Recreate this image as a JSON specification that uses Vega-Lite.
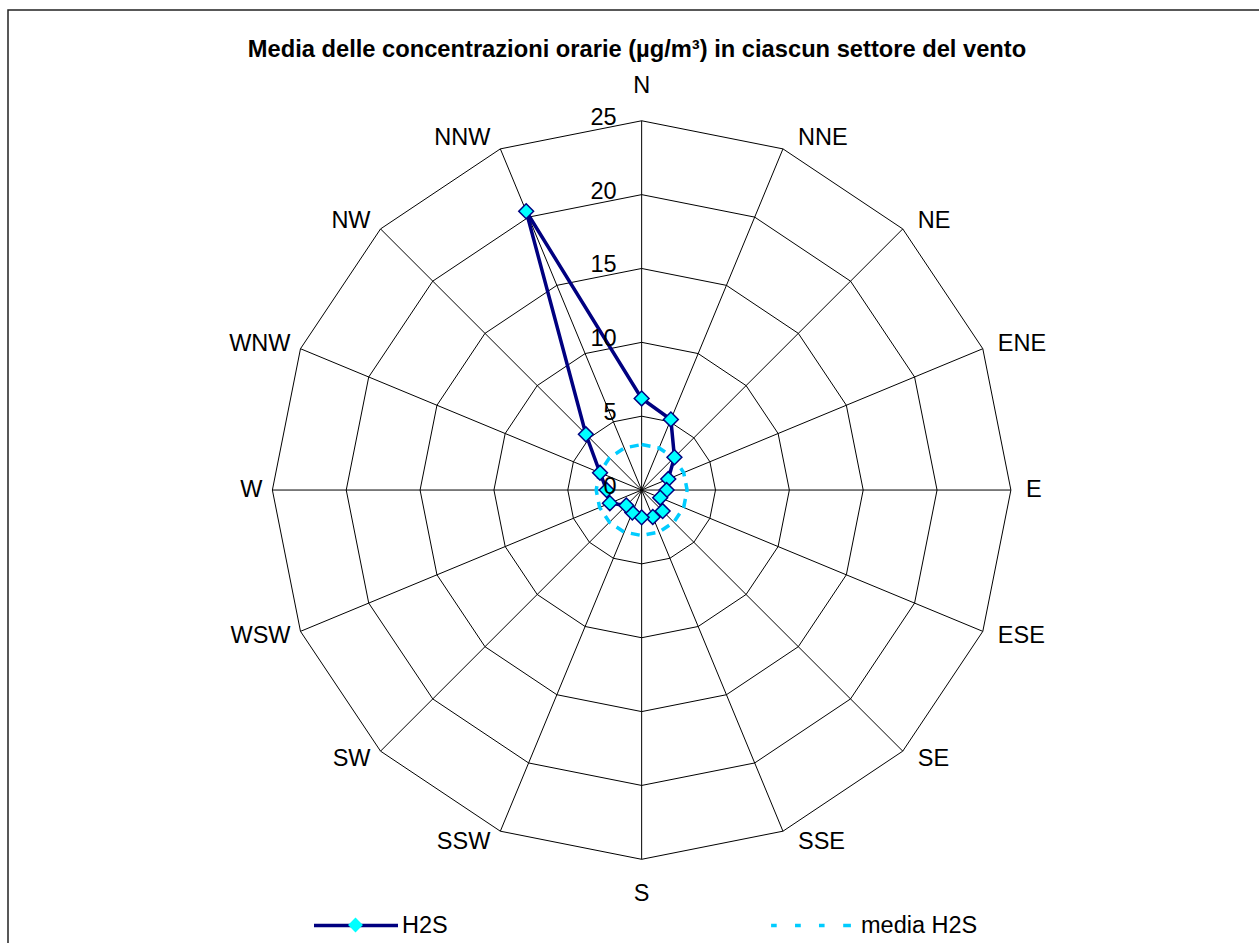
{
  "$schema": "https://vega.github.io/schema/vega-lite/v6.json",
  "width": 1254,
  "height": 936,
  "autosize": {"type": "none"},
  "padding": {"left": 8, "top": 10, "right": -3, "bottom": -3},
  "background": "white",
  "config": {"view": {"stroke": "#222", "strokeWidth": 1.5}, "font": "Liberation Sans"},
  "title": {"text": "Media delle concentrazioni orarie (µg/m³) in ciascun settore del vento", "font": "Liberation Sans", "fontSize": 23.7, "fontWeight": "bold", "color": "#000", "anchor": "middle", "frame": "group", "offset": -52, "dx": 2},
  "data": {"values": [
    {"dir": "N", "deg": 0, "H2S": 6.2, "media H2S": 3.08},
    {"dir": "NNE", "deg": 22.5, "H2S": 5.17, "media H2S": 3.08},
    {"dir": "NE", "deg": 45, "H2S": 3.14, "media H2S": 3.08},
    {"dir": "ENE", "deg": 67.5, "H2S": 1.95, "media H2S": 3.08},
    {"dir": "E", "deg": 90, "H2S": 1.69, "media H2S": 3.08},
    {"dir": "ESE", "deg": 112.5, "H2S": 1.36, "media H2S": 3.08},
    {"dir": "SE", "deg": 135, "H2S": 2.01, "media H2S": 3.08},
    {"dir": "SSE", "deg": 157.5, "H2S": 1.97, "media H2S": 3.08},
    {"dir": "S", "deg": 180, "H2S": 1.85, "media H2S": 3.08},
    {"dir": "SSW", "deg": 202.5, "H2S": 1.65, "media H2S": 3.08},
    {"dir": "SW", "deg": 225, "H2S": 1.47, "media H2S": 3.08},
    {"dir": "WSW", "deg": 247.5, "H2S": 2.33, "media H2S": 3.08},
    {"dir": "W", "deg": 270, "H2S": 2.37, "media H2S": 3.08},
    {"dir": "WNW", "deg": 292.5, "H2S": 3.05, "media H2S": 3.08},
    {"dir": "NW", "deg": 315, "H2S": 5.34, "media H2S": 3.08},
    {"dir": "NNW", "deg": 337.5, "H2S": 20.43, "media H2S": 3.08}
  ]},
  "transform": [{"calculate": "datum.deg*PI/180", "as": "rad"}, {"calculate": "0", "as": "zero"}],
  "layer": [
    {
      "transform": [
        {"calculate": "[5,10,15,20,25]", "as": "ring"},
        {"flatten": ["ring"]},
        {"calculate": "datum.ring*sin(datum.rad)", "as": "gx"},
        {"calculate": "datum.ring*cos(datum.rad)", "as": "gy"}
      ],
      "mark": {"type": "line", "interpolate": "linear-closed", "stroke": "#000", "strokeWidth": 1},
      "encoding": {
        "x": {"field": "gx", "type": "quantitative", "scale": {"domain": [-42.9, 42.0], "nice": false, "zero": false}, "axis": null},
        "y": {"field": "gy", "type": "quantitative", "scale": {"domain": [-30.87, 32.5], "nice": false, "zero": false}, "axis": null},
        "detail": {"field": "ring", "type": "nominal"},
        "order": {"field": "deg", "type": "quantitative"}
      }
    },
    {
      "transform": [
        {"calculate": "25*sin(datum.rad)", "as": "sx"},
        {"calculate": "25*cos(datum.rad)", "as": "sy"}
      ],
      "mark": {"type": "rule", "stroke": "#000", "strokeWidth": 1},
      "encoding": {
        "x": {"field": "zero", "type": "quantitative", "scale": {"domain": [-42.9, 42.0], "nice": false, "zero": false}, "axis": null},
        "y": {"field": "zero", "type": "quantitative", "scale": {"domain": [-30.87, 32.5], "nice": false, "zero": false}, "axis": null},
        "x2": {"field": "sx"},
        "y2": {"field": "sy"}
      }
    },
    {
      "transform": [
        {"fold": ["H2S", "media H2S"], "as": ["series", "value"]},
        {"filter": "datum.series === 'media H2S'"},
        {"calculate": "datum.value*sin(datum.rad)", "as": "px"},
        {"calculate": "datum.value*cos(datum.rad)", "as": "py"}
      ],
      "mark": {"type": "line", "interpolate": "linear-closed", "stroke": "#00CCFF", "strokeWidth": 3.5},
      "encoding": {
        "x": {"field": "px", "type": "quantitative", "scale": {"domain": [-42.9, 42.0], "nice": false, "zero": false}, "axis": null},
        "y": {"field": "py", "type": "quantitative", "scale": {"domain": [-30.87, 32.5], "nice": false, "zero": false}, "axis": null},
        "order": {"field": "deg", "type": "quantitative"},
        "strokeDash": {"field": "series", "type": "nominal", "scale": {"domain": ["media H2S"], "range": [[9, 7]]},
          "legend": {"orient": "none", "legendX": 787, "legendY": 899.5, "title": null, "symbolType": "M-2.85,0L-2.45,0M-1.14,0L-0.73,0M0.57,0L0.97,0M2.3,0L2.85,0", "symbolSize": 784, "symbolStrokeWidth": 3.5, "symbolStrokeColor": "#00CCFF", "labelFontSize": 23.5, "labelFont": "Liberation Sans", "labelColor": "#000", "labelOffset": 34, "padding": 0, "symbolOffset": 0}}
      }
    },
    {
      "transform": [
        {"fold": ["H2S", "media H2S"], "as": ["series", "value"]},
        {"filter": "datum.series === 'H2S'"},
        {"calculate": "datum.value*sin(datum.rad)", "as": "px"},
        {"calculate": "datum.value*cos(datum.rad)", "as": "py"}
      ],
      "mark": {"type": "line", "interpolate": "linear-closed", "strokeWidth": 3.5},
      "encoding": {
        "x": {"field": "px", "type": "quantitative", "scale": {"domain": [-42.9, 42.0], "nice": false, "zero": false}, "axis": null},
        "y": {"field": "py", "type": "quantitative", "scale": {"domain": [-30.87, 32.5], "nice": false, "zero": false}, "axis": null},
        "order": {"field": "deg", "type": "quantitative"},
        "color": {"field": "series", "type": "nominal", "scale": {"domain": ["H2S"], "range": ["#000080"]},
          "legend": {"orient": "none", "legendX": 332, "legendY": 899.5, "title": null, "symbolType": "M-3,0L3,0", "symbolSize": 784, "symbolStrokeWidth": 3.5, "labelFontSize": 23.5, "labelFont": "Liberation Sans", "labelColor": "#000", "labelOffset": 30, "padding": 0, "symbolOffset": 0}}
      }
    },
    {
      "transform": [
        {"fold": ["H2S", "media H2S"], "as": ["series", "value"]},
        {"filter": "datum.series === 'H2S'"},
        {"calculate": "datum.value*sin(datum.rad)", "as": "px"},
        {"calculate": "datum.value*cos(datum.rad)", "as": "py"}
      ],
      "mark": {"type": "point", "filled": true, "fill": "#00FFFF", "stroke": "#000080", "strokeWidth": 1.5, "size": 220, "opacity": 1},
      "encoding": {
        "x": {"field": "px", "type": "quantitative", "scale": {"domain": [-42.9, 42.0], "nice": false, "zero": false}, "axis": null},
        "y": {"field": "py", "type": "quantitative", "scale": {"domain": [-30.87, 32.5], "nice": false, "zero": false}, "axis": null},
        "shape": {"field": "series", "type": "nominal", "scale": {"range": ["diamond"]},
          "legend": {"orient": "none", "legendX": 339, "legendY": 906.5, "title": null, "symbolSize": 220, "symbolFillColor": "#00FFFF", "symbolStrokeColor": "#000080", "symbolStrokeWidth": 1.5, "labelFontSize": 10, "labelExpr": "''", "padding": 0, "symbolOffset": 0}}
      }
    },
    {
      "transform": [{"filter": "datum.deg === 0"}, {"calculate": "[0,5,10,15,20,25]", "as": "tick"}, {"flatten": ["tick"]}],
      "mark": {"type": "text", "align": "right", "baseline": "middle", "dx": -25, "dy": -3, "fontSize": 23.5, "font": "Liberation Sans", "color": "#000"},
      "encoding": {
        "x": {"field": "zero", "type": "quantitative", "scale": {"domain": [-42.9, 42.0], "nice": false, "zero": false}, "axis": null},
        "y": {"field": "tick", "type": "quantitative", "scale": {"domain": [-30.87, 32.5], "nice": false, "zero": false}, "axis": null},
        "text": {"field": "tick", "type": "quantitative"}
      }
    },
    {
      "transform": [
        {"filter": "sin(datum.rad) > 0.01"},
        {"calculate": "25*sin(datum.rad)", "as": "lx"},
        {"calculate": "25.8*cos(datum.rad)", "as": "ly"}
      ],
      "mark": {"type": "text", "align": "left", "baseline": "middle", "dx": 15, "fontSize": 23.5, "font": "Liberation Sans", "color": "#000"},
      "encoding": {
        "x": {"field": "lx", "type": "quantitative", "scale": {"domain": [-42.9, 42.0], "nice": false, "zero": false}, "axis": null},
        "y": {"field": "ly", "type": "quantitative", "scale": {"domain": [-30.87, 32.5], "nice": false, "zero": false}, "axis": null},
        "text": {"field": "dir", "type": "nominal"}
      }
    },
    {
      "transform": [
        {"filter": "sin(datum.rad) < -0.01"},
        {"calculate": "25*sin(datum.rad)", "as": "lx"},
        {"calculate": "25.8*cos(datum.rad)", "as": "ly"}
      ],
      "mark": {"type": "text", "align": "right", "baseline": "middle", "dx": -10, "fontSize": 23.5, "font": "Liberation Sans", "color": "#000"},
      "encoding": {
        "x": {"field": "lx", "type": "quantitative", "scale": {"domain": [-42.9, 42.0], "nice": false, "zero": false}, "axis": null},
        "y": {"field": "ly", "type": "quantitative", "scale": {"domain": [-30.87, 32.5], "nice": false, "zero": false}, "axis": null},
        "text": {"field": "dir", "type": "nominal"}
      }
    },
    {
      "transform": [
        {"filter": "abs(sin(datum.rad)) <= 0.01"},
        {"calculate": "27.35*cos(datum.rad)", "as": "ly"}
      ],
      "mark": {"type": "text", "align": "center", "baseline": "middle", "fontSize": 23.5, "font": "Liberation Sans", "color": "#000"},
      "encoding": {
        "x": {"field": "zero", "type": "quantitative", "scale": {"domain": [-42.9, 42.0], "nice": false, "zero": false}, "axis": null},
        "y": {"field": "ly", "type": "quantitative", "scale": {"domain": [-30.87, 32.5], "nice": false, "zero": false}, "axis": null},
        "text": {"field": "dir", "type": "nominal"}
      }
    }
  ]
}
